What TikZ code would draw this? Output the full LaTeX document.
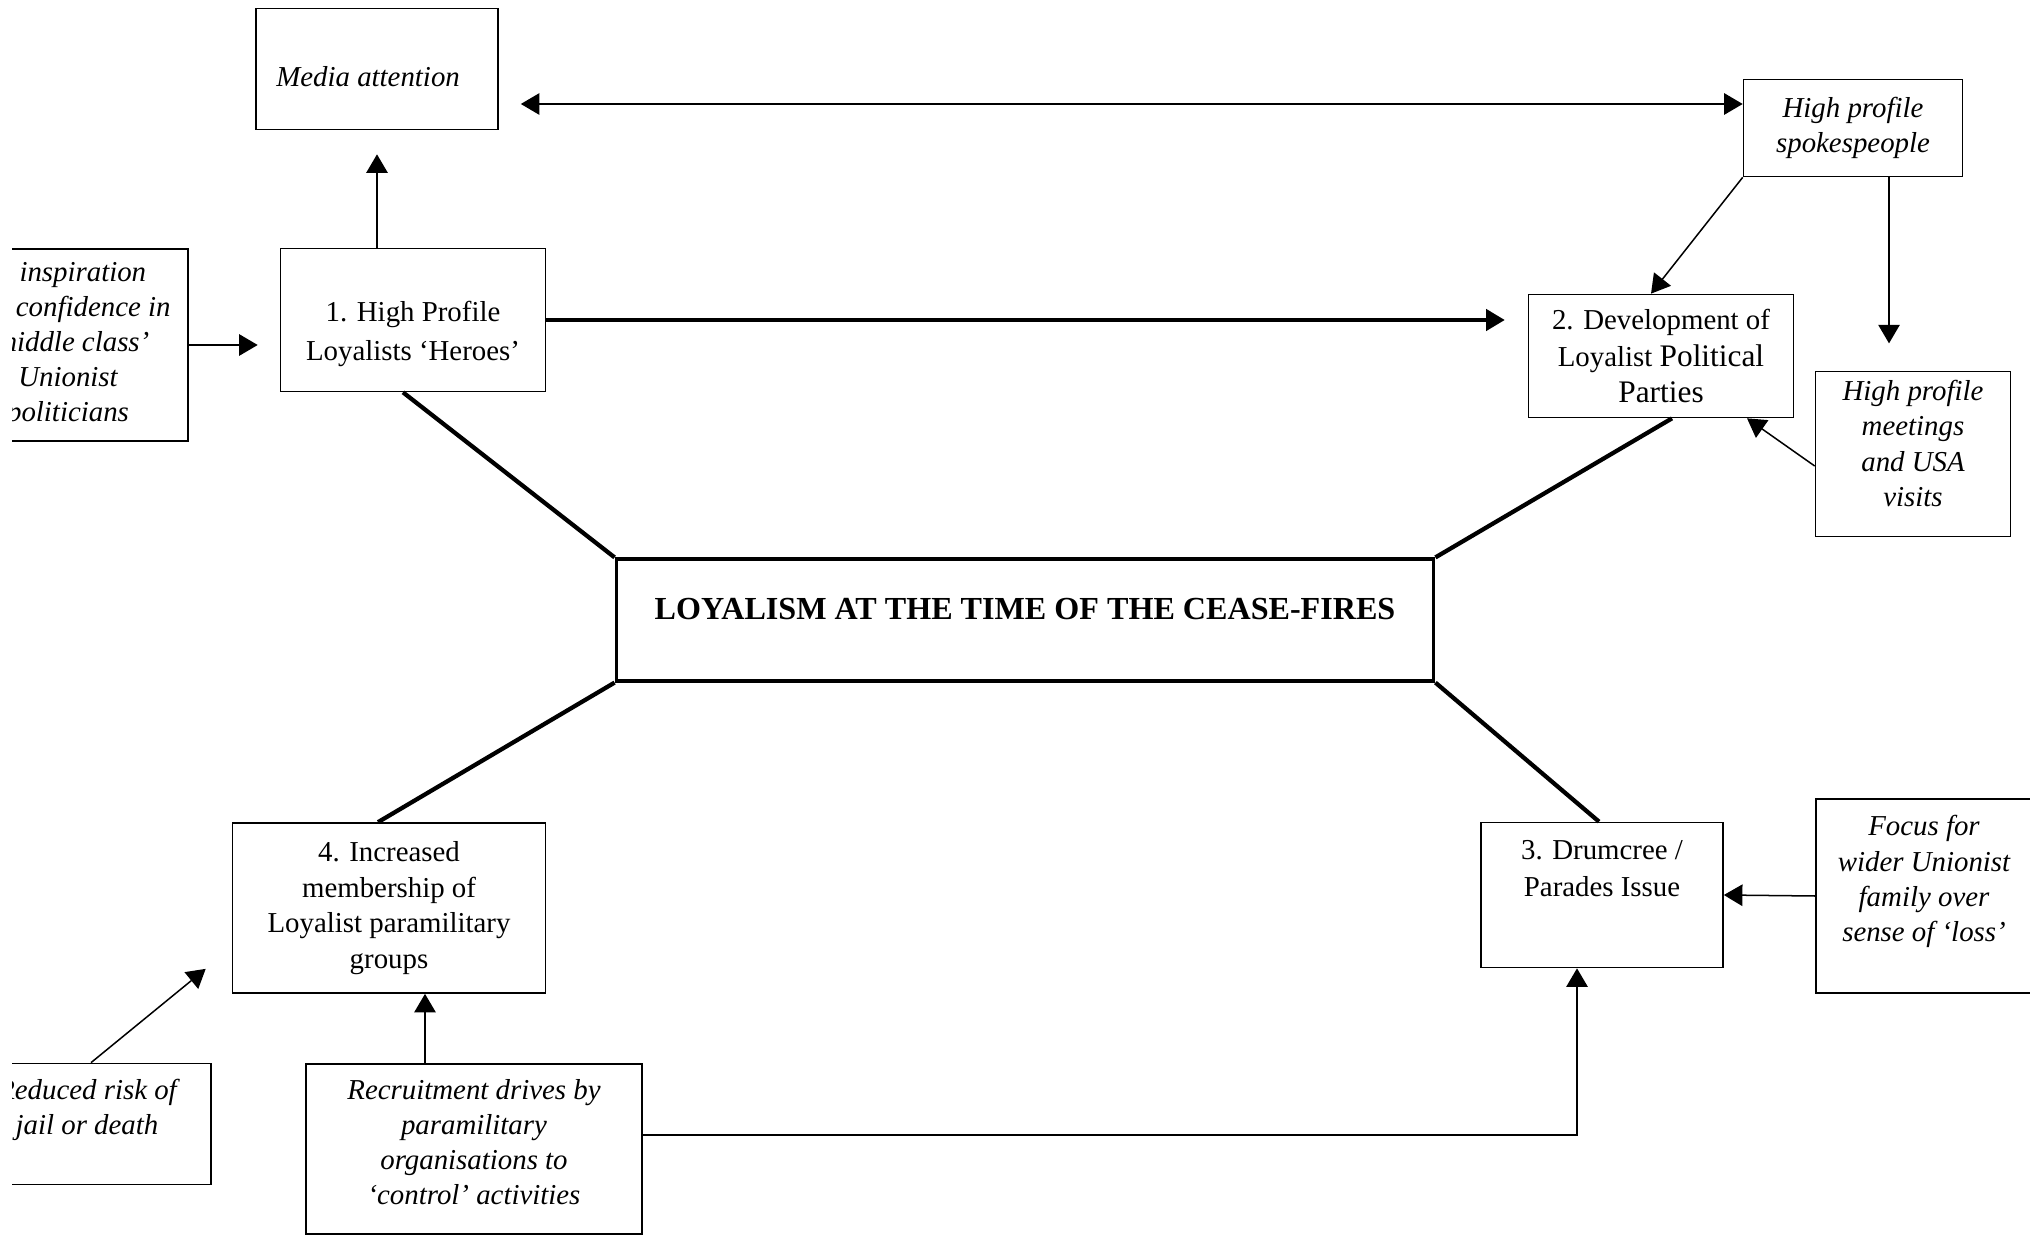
\documentclass[tikz,border=0pt]{standalone}
\usepackage{fontspec}
\setmainfont{Liberation Serif}
\usetikzlibrary{calc,arrows.meta}

\tikzset{
  box/.style={draw, line width=0.7pt, align=center, inner sep=2pt,
    font=\fontsize{11.5}{14.5}\selectfont},
  ibox/.style={box, font=\fontsize{11.5}{14}\selectfont\itshape},
  link/.style={line width=0.6pt, -{Triangle[length=0.26cm,width=0.3cm]}},
  bothway/.style={line width=0.6pt,
    {Triangle[length=0.26cm,width=0.3cm]}-{Triangle[length=0.26cm,width=0.3cm]}},
  spoke/.style={line width=1.7pt},
}
\newcommand\upstrut[1]{\rule{0pt}{#1}}
\newcommand\downstrut[1]{\rule[-#1]{0pt}{0.1pt}}

\begin{document}
\begin{tikzpicture}[x=0.014cm,y=-0.014cm]
  \useasboundingbox (0,0) rectangle (2030,1235);
  % top row
  \node[ibox, minimum width=3.388cm, minimum height=1.694cm] (media) at (377,69) {\upstrut{14pt}Media attention\hspace{0.25cm}};
  \node[ibox, minimum width=3.066cm, minimum height=1.358cm] (spokes) at (1853,128) {High profile\\spokespeople};
  % the four themes
  \node[box, minimum width=3.71cm, minimum height=2.002cm, font=\fontsize{11.5}{15.5}\selectfont] (hero) at (413,320)
    {\upstrut{19pt}1. High Profile\\Loyalists ‘Heroes’};
  \node[box, minimum width=3.71cm, minimum height=1.722cm] (party) at (1661,356)
    {2. Development of\\Loyalist {\fontsize{12.5}{14.5}\selectfont Political}\\{\fontsize{12.5}{14.5}\selectfont Parties}};
  \node[box, minimum width=3.388cm, minimum height=2.03cm] (drum) at (1602,895) {};
  \node[box, draw=none, anchor=north] (drumtext) at ($(drum.north)+(0,13)$) {3. Drumcree /\\Parades Issue};
  \node[box, minimum width=4.382cm, minimum height=2.38cm, font=\fontsize{11.5}{14.2}\selectfont] (member) at (389,908)
    {4. Increased\\membership of\\Loyalist paramilitary\\groups};
  % centre
  \node[box, line width=1.3pt, minimum width=11.452cm, minimum height=1.708cm,
    font=\fontsize{12.8}{14.5}\selectfont\bfseries] (cease) at (1025,620)
    {LOYALISM AT THE TIME OF THE CEASE-FIRES\downstrut{0.32cm}};
  % side factors
  \node[ibox, minimum width=2.73cm, minimum height=2.31cm] (meet) at (1913,454)
    {High profile\\meetings\\and USA\\visits\downstrut{0.3cm}};
  \node[ibox, minimum width=3.024cm, minimum height=2.716cm] (focus) at (1924,896)
    {Focus for\\wider Unionist\\family over\\sense of ‘loss’\\\mbox{}};
  \node[ibox, minimum width=4.704cm, minimum height=2.38cm] (recruit) at (474,1149)
    {Recruitment drives by\\paramilitary\\organisations to\\‘control’ activities\downstrut{0.2cm}};
  \begin{scope}
    \clip (12,0) rectangle (400,1235);
    \node[ibox, minimum width=3.36cm, minimum height=2.688cm] (inspire) at (68,345)
      {to inspiration\\and confidence in\\‘middle class’\\Unionist\\politicians};
    \node[ibox, minimum width=3.472cm, minimum height=1.694cm] (reduced) at (87,1124)
      {Reduced risk of\\jail or death\\\mbox{}};
  \end{scope}

  % spokes to the centre
  \draw[spoke] ($(hero.south)+(-10,0)$) -- (cease.north west);
  \draw[spoke] ($(party.south)+(11,0)$) -- (cease.north east);
  \draw[spoke] ($(member.north)+(-11,0)$) -- (cease.south west);
  \draw[spoke] ($(drum.north)+(-3,0)$) -- (cease.south east);

  % arrows
  \coordinate (ma) at ($(media.east)+(22,35)$);
  \draw[bothway] (ma) -- (ma -| spokes.west);
  \draw[link] (hero.north -| media.south) -- ($(media.south)+(0,24)$);
  \draw[link] (inspire.east) -- ($(inspire.east -| hero.west)+(-22,0)$);
  \draw[link, line width=1.2pt] (hero.east) -- ($(hero.east -| party.west)+(-23,0)$);
  \draw[link] (spokes.south west) -- ($(party.north)+(-10,0)$);
  \coordinate (sd) at ($(spokes.south)+(36,0)$);
  \draw[link] (sd) -- ++(0,166);
  \draw[link] ($(meet.west)+(0,12)$) -- ($(party.south)+(86,0)$);
  \draw[link] (focus.west) -- (drum.east);
  \draw[link] ($(reduced.north)+(4,0)$) -- ($(member.south west)+(-26,-25)$);
  \coordinate (rm) at ($(recruit.north)+(-49,0)$);
  \draw[link] (rm) -- (rm |- member.south);
  \coordinate (rd) at ($(recruit.east)+(0,-14)$);
  \draw[link] (rd) -| ($(drum.south)+(-25,0)$);
\end{tikzpicture}
\end{document}
